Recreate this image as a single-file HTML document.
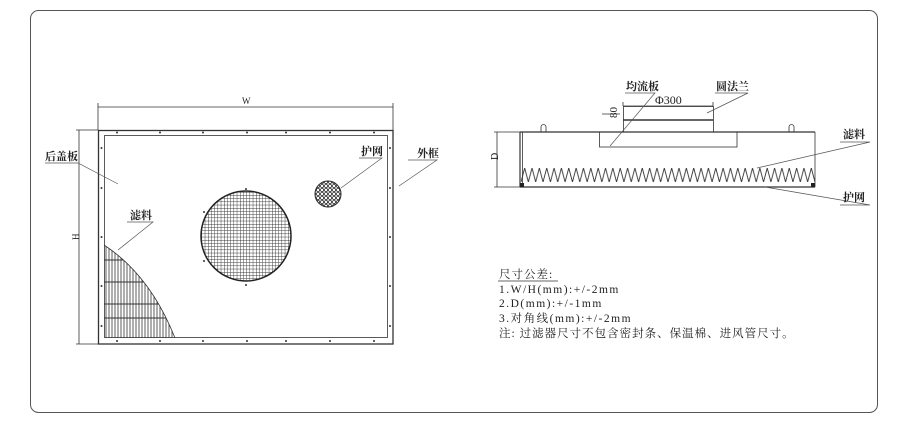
<!DOCTYPE html>
<html><head><meta charset="utf-8"><style>
html,body{margin:0;padding:0;background:#fff;width:916px;height:439px;overflow:hidden}
svg{display:block}
text{font-family:"Liberation Serif","Noto Serif CJK SC","Noto Sans CJK SC",serif;fill:#222}
.lb{font-weight:bold}
</style></head><body>
<svg width="916" height="439" viewBox="0 0 916 439" xmlns="http://www.w3.org/2000/svg">
<defs>
<pattern id="mesh" width="3.2" height="3.2" patternUnits="userSpaceOnUse">
<rect width="3.2" height="3.2" fill="#fff"/>
<path d="M0 0H3.2M0 0V3.2" stroke="#333" stroke-width="0.9"/>
</pattern>
<pattern id="hex" width="4" height="4" patternUnits="userSpaceOnUse">
<rect width="4" height="4" fill="#fff"/>
<circle cx="2" cy="2" r="1.6" fill="none" stroke="#333" stroke-width="0.8"/>
</pattern>
<pattern id="vl" width="3" height="10" patternUnits="userSpaceOnUse">
<path d="M1 0V10" stroke="#333" stroke-width="0.8"/>
</pattern>
<pattern id="zz" x="521" y="168" width="7.35" height="14" patternUnits="userSpaceOnUse">
<path d="M0 14L3.67 0L7.35 14" fill="none" stroke="#333" stroke-width="0.9"/>
</pattern>
<clipPath id="fc"><path d="M104 245 Q150 275 175 338 L104 338Z"/></clipPath>
</defs>
<rect x="30.5" y="10.5" width="847" height="402" rx="8" fill="none" stroke="#555" stroke-width="1"/>

<g stroke="#333" fill="none" stroke-width="0.8">
<line x1="98" y1="107" x2="393" y2="107"/>
<line x1="98" y1="103" x2="98" y2="130"/><line x1="393" y1="103" x2="393" y2="130"/>
<line x1="79" y1="130" x2="79" y2="344"/>
<line x1="76" y1="130" x2="98" y2="130"/><line x1="76" y1="344" x2="98" y2="344"/>
<rect x="98.5" y="130.5" width="294.5" height="213.5" stroke-width="1.3"/>
<rect x="104.5" y="135.5" width="283" height="202"/>
</g>
<g fill="#333">
<circle cx="117" cy="132.5" r="1"/><circle cx="160" cy="132.5" r="1"/><circle cx="203" cy="132.5" r="1"/><circle cx="247" cy="132.5" r="1"/><circle cx="286" cy="132.5" r="1"/><circle cx="330" cy="132.5" r="1"/><circle cx="374" cy="132.5" r="1"/>
<circle cx="117" cy="341" r="1"/><circle cx="160" cy="341" r="1"/><circle cx="203" cy="341" r="1"/><circle cx="247" cy="341" r="1"/><circle cx="286" cy="341" r="1"/><circle cx="330" cy="341" r="1"/><circle cx="374" cy="341" r="1"/>
<circle cx="101.5" cy="148" r="1"/><circle cx="101.5" cy="188" r="1"/><circle cx="101.5" cy="237" r="1"/><circle cx="101.5" cy="286" r="1"/><circle cx="101.5" cy="326" r="1"/>
<circle cx="390" cy="148" r="1"/><circle cx="390" cy="188" r="1"/><circle cx="390" cy="237" r="1"/><circle cx="390" cy="286" r="1"/><circle cx="390" cy="326" r="1"/>
<circle cx="246" cy="189" r="1"/><circle cx="246" cy="285" r="1"/><circle cx="204" cy="212" r="1"/><circle cx="204" cy="261" r="1"/>
</g>
<circle cx="246" cy="236" r="45" fill="url(#mesh)" stroke="#222" stroke-width="1.5"/>
<circle cx="328" cy="194" r="13" fill="url(#hex)" stroke="#222" stroke-width="1"/>
<g clip-path="url(#fc)">
<rect x="104" y="245" width="72" height="93" fill="url(#vl)"/>
<path d="M104 260H180M104 282H180M104 304H180M104 318H180" stroke="#333" stroke-width="0.9"/>
</g>
<path d="M104 245 Q150 275 175 338" fill="none" stroke="#333" stroke-width="0.8"/>
<g stroke="#555" stroke-width="0.7" fill="none">
<path d="M45 163H78L118 184"/>
<path d="M127 222H153L118 250"/>
<path d="M359 158H382L341 188"/>
<path d="M408 160H437L399 186"/>
</g>
<g font-size="11">
<text x="242" y="104" font-size="9">W</text>
<text x="75" y="244" font-size="9" transform="rotate(-90 75 240)">H</text>
<text class="lb" x="45" y="160">后盖板</text>
<text class="lb" x="130" y="219">滤料</text>
<text class="lb" x="361" y="155">护网</text>
<text class="lb" x="417" y="157">外框</text>
</g>

<g stroke="#333" fill="none" stroke-width="0.8">
<line x1="497" y1="132" x2="497" y2="187"/>
<line x1="494" y1="132" x2="520" y2="132"/><line x1="494" y1="187" x2="520" y2="187"/>
<line x1="520" y1="132" x2="815" y2="132" stroke-width="1.2"/>
<line x1="520" y1="132" x2="520" y2="187" stroke-width="1.2"/>
<line x1="522.5" y1="132" x2="522.5" y2="187"/>
<line x1="815" y1="132" x2="815" y2="187"/>
<line x1="520" y1="187" x2="815" y2="187" stroke-width="1.2"/>
<rect x="623.5" y="106.5" width="90" height="25.5"/>
<line x1="623" y1="120" x2="713" y2="120" stroke-width="1.5"/>
<rect x="599.5" y="132" width="137.5" height="15"/>
<line x1="623" y1="106" x2="623" y2="102"/><line x1="713" y1="106" x2="713" y2="102"/>
<line x1="623" y1="106" x2="713" y2="106"/>
<line x1="602" y1="114" x2="620" y2="114"/>
<path d="M541 132V127a2.5 2.5 0 0 1 5 0V132"/>
<path d="M789 132V127a2.5 2.5 0 0 1 5 0V132"/>
</g>
<rect x="521" y="168" width="294" height="14" fill="url(#zz)"/>
<rect x="520" y="183" width="4" height="4" fill="#222"/><rect x="811" y="183" width="4" height="4" fill="#222"/>
<g stroke="#555" stroke-width="0.7" fill="none">
<path d="M625 93H655L610 146"/>
<path d="M715 93H748L707 113"/>
<path d="M840 142H870L757 168"/>
<path d="M840 205H870L765 187"/>
</g>
<g font-size="11">
<text class="lb" x="626" y="90">均流板</text>
<text class="lb" x="716" y="90">圆法兰</text>
<text x="655" y="104" font-size="12">Φ300</text>
<text x="617" y="126" font-size="11" transform="rotate(-90 613 122)">80</text>
<text x="494" y="164" font-size="10" transform="rotate(-90 494 160)">D</text>
<text class="lb" x="843" y="138">滤料</text>
<text class="lb" x="843" y="201">护网</text>
</g>

<g font-size="11.5" letter-spacing="1">
<text x="499" y="278">尺寸公差:</text>
<line x1="498" y1="281" x2="558" y2="281" stroke="#333" stroke-width="0.7"/>
<text x="499" y="293" letter-spacing="1.5">1.W/H(mm):+/-2mm</text>
<text x="499" y="307" letter-spacing="1.5">2.D(mm):+/-1mm</text>
<text x="499" y="322" letter-spacing="1.5">3.对角线(mm):+/-2mm</text>
<text x="499" y="337">注: 过滤器尺寸不包含密封条、保温棉、进风管尺寸。</text>
</g>
</svg>
</body></html>
